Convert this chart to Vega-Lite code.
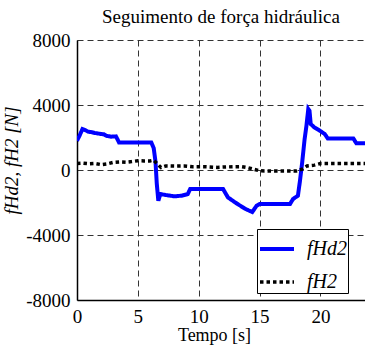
{
  "$schema": "https://vega.github.io/schema/vega-lite/v6.json",
  "autosize": {"type": "none"},
  "padding": {"left": 77, "top": 40, "right": 0, "bottom": 49},
  "width": 288,
  "height": 260,
  "background": "white",
  "config": {
    "view": {"stroke": null},
    "font": "Liberation Serif",
    "axis": {"labelFont": "Liberation Serif", "titleFont": "Liberation Serif", "labelColor": "black", "titleColor": "black", "titleFontWeight": "normal"}
  },
  "title": {"text": "Seguimento de força hidráulica", "font": "Liberation Serif", "fontSize": 19, "fontWeight": "normal", "color": "black", "offset": 4},
  "datasets": {
    "traces": [
      {"t": 0, "v": 1800, "s": "fHd2"}, {"t": 0.2, "v": 2100, "s": "fHd2"}, {"t": 0.45, "v": 2520, "s": "fHd2"}, {"t": 0.7, "v": 2450, "s": "fHd2"}, {"t": 0.9, "v": 2360, "s": "fHd2"}, {"t": 1.2, "v": 2330, "s": "fHd2"}, {"t": 1.45, "v": 2280, "s": "fHd2"}, {"t": 1.7, "v": 2250, "s": "fHd2"}, {"t": 2.0, "v": 2215, "s": "fHd2"}, {"t": 2.2, "v": 2200, "s": "fHd2"}, {"t": 2.4, "v": 2110, "s": "fHd2"}, {"t": 2.6, "v": 2080, "s": "fHd2"}, {"t": 2.8, "v": 2050, "s": "fHd2"}, {"t": 3.2, "v": 2070, "s": "fHd2"}, {"t": 3.35, "v": 1850, "s": "fHd2"}, {"t": 3.45, "v": 1700, "s": "fHd2"}, {"t": 6.1, "v": 1700, "s": "fHd2"}, {"t": 6.3, "v": 1350, "s": "fHd2"}, {"t": 6.45, "v": 500, "s": "fHd2"}, {"t": 6.55, "v": -800, "s": "fHd2"}, {"t": 6.68, "v": -1890, "s": "fHd2"}, {"t": 6.85, "v": -1480, "s": "fHd2"}, {"t": 7.3, "v": -1540, "s": "fHd2"}, {"t": 8.0, "v": -1620, "s": "fHd2"}, {"t": 8.6, "v": -1580, "s": "fHd2"}, {"t": 9.1, "v": -1480, "s": "fHd2"}, {"t": 9.3, "v": -1170, "s": "fHd2"}, {"t": 12.0, "v": -1170, "s": "fHd2"}, {"t": 12.4, "v": -1686, "s": "fHd2"}, {"t": 13.1, "v": -2050, "s": "fHd2"}, {"t": 13.8, "v": -2380, "s": "fHd2"}, {"t": 14.4, "v": -2590, "s": "fHd2"}, {"t": 14.75, "v": -2200, "s": "fHd2"}, {"t": 15.0, "v": -2092, "s": "fHd2"}, {"t": 17.5, "v": -2092, "s": "fHd2"}, {"t": 17.75, "v": -1785, "s": "fHd2"}, {"t": 18.15, "v": -1580, "s": "fHd2"}, {"t": 18.3, "v": -763, "s": "fHd2"}, {"t": 18.5, "v": 468, "s": "fHd2"}, {"t": 18.7, "v": 1908, "s": "fHd2"}, {"t": 18.85, "v": 2726, "s": "fHd2"}, {"t": 19.0, "v": 3754, "s": "fHd2"}, {"t": 19.1, "v": 3650, "s": "fHd2"}, {"t": 19.2, "v": 2830, "s": "fHd2"}, {"t": 19.5, "v": 2623, "s": "fHd2"}, {"t": 19.95, "v": 2418, "s": "fHd2"}, {"t": 20.35, "v": 2215, "s": "fHd2"}, {"t": 20.6, "v": 1945, "s": "fHd2"}, {"t": 22.7, "v": 1945, "s": "fHd2"}, {"t": 22.95, "v": 1640, "s": "fHd2"}, {"t": 23.7, "v": 1640, "s": "fHd2"},
      {"t": 0, "v": 400, "s": "fH2"}, {"t": 0.5, "v": 420, "s": "fH2"}, {"t": 1.0, "v": 380, "s": "fH2"}, {"t": 1.5, "v": 400, "s": "fH2"}, {"t": 2.0, "v": 330, "s": "fH2"}, {"t": 2.5, "v": 380, "s": "fH2"}, {"t": 3.0, "v": 470, "s": "fH2"}, {"t": 3.5, "v": 500, "s": "fH2"}, {"t": 4.0, "v": 480, "s": "fH2"}, {"t": 4.5, "v": 520, "s": "fH2"}, {"t": 5.0, "v": 570, "s": "fH2"}, {"t": 5.5, "v": 560, "s": "fH2"}, {"t": 6.0, "v": 560, "s": "fH2"}, {"t": 6.3, "v": 600, "s": "fH2"}, {"t": 6.6, "v": 380, "s": "fH2"}, {"t": 6.9, "v": 150, "s": "fH2"}, {"t": 7.3, "v": 250, "s": "fH2"}, {"t": 8.0, "v": 240, "s": "fH2"}, {"t": 8.8, "v": 250, "s": "fH2"}, {"t": 9.5, "v": 200, "s": "fH2"}, {"t": 10.5, "v": 200, "s": "fH2"}, {"t": 11.5, "v": 160, "s": "fH2"}, {"t": 12.0, "v": 180, "s": "fH2"}, {"t": 12.8, "v": 200, "s": "fH2"}, {"t": 13.5, "v": 210, "s": "fH2"}, {"t": 14.0, "v": 150, "s": "fH2"}, {"t": 14.5, "v": 50, "s": "fH2"}, {"t": 15.0, "v": -50, "s": "fH2"}, {"t": 16.0, "v": -60, "s": "fH2"}, {"t": 17.0, "v": -60, "s": "fH2"}, {"t": 18.0, "v": -60, "s": "fH2"}, {"t": 18.5, "v": 50, "s": "fH2"}, {"t": 18.9, "v": 250, "s": "fH2"}, {"t": 19.5, "v": 300, "s": "fH2"}, {"t": 20.0, "v": 400, "s": "fH2"}, {"t": 21.0, "v": 400, "s": "fH2"}, {"t": 22.0, "v": 400, "s": "fH2"}, {"t": 23.0, "v": 400, "s": "fH2"}, {"t": 23.7, "v": 400, "s": "fH2"}
    ]
  },
  "layer": [
    {
      "mark": {"type": "rule", "color": "black", "strokeWidth": 1.5},
      "encoding": {"y": {"datum": 8000}}
    },
    {
      "data": {"name": "traces"},
      "mark": {"type": "line", "clip": true, "interpolate": "linear"},
      "encoding": {
        "x": {"field": "t", "type": "quantitative", "title": "Tempo [s]",
              "scale": {"domain": [0, 23.66], "nice": false, "zero": false},
              "axis": {"values": [0, 5, 10, 15, 20], "labelExpr": "toString(datum.value)", "labelFont": "Liberation Serif", "titleFont": "Liberation Serif", "labelFontSize": 19, "titleFontSize": 18, "labelPadding": 7, "titlePadding": 0, "titleX": 137, "ticks": false,
                       "domainColor": "black", "domainWidth": 1.5, "labelFlush": false,
                       "grid": true, "gridColor": "#333333", "gridDash": [6, 4], "gridWidth": 1, "gridOpacity": 1}},
        "y": {"field": "v", "type": "quantitative", "title": "fHd2, fH2 [N]",
              "scale": {"domain": [-8000, 8000], "nice": false},
              "axis": {"values": [-8000, -4000, 0, 4000, 8000], "labelExpr": "toString(datum.value)", "labelFont": "Liberation Serif", "titleFont": "Liberation Serif", "labelFontSize": 19, "titleFontSize": 19, "titleFontStyle": "italic", "labelPadding": 7, "titlePadding": 4, "titleY": 120, "ticks": false,
                       "domainColor": "black", "domainWidth": 1.5, "labelFlush": false,
                       "grid": true, "gridColor": "#333333", "gridDash": [6, 4], "gridWidth": 1, "gridOpacity": 1}},
        "color": {"field": "s", "type": "nominal", "title": null,
                  "scale": {"domain": ["fHd2", "fH2"], "range": ["#0000ff", "#000000"]},
                  "legend": {"orient": "none", "legendX": 180, "legendY": 189, "fillColor": "white", "strokeColor": "black",
                             "padding": 1, "rowPadding": 4, "symbolType": "stroke", "symbolSize": 1156, "symbolStrokeWidth": 4,
                             "labelFont": "Liberation Serif", "labelFontStyle": "italic", "labelFontSize": 20, "labelColor": "black", "labelOffset": 11,
                             "labelExpr": "datum.label + '        '"}},
        "strokeDash": {"field": "s", "type": "nominal", "title": null,
                       "scale": {"domain": ["fHd2", "fH2"], "range": [[1, 0], [3.5, 3]]}},
        "strokeWidth": {"field": "s", "type": "nominal", "legend": null,
                        "scale": {"domain": ["fHd2", "fH2"], "range": [4, 3.5]}}
      }
    }
  ]
}
